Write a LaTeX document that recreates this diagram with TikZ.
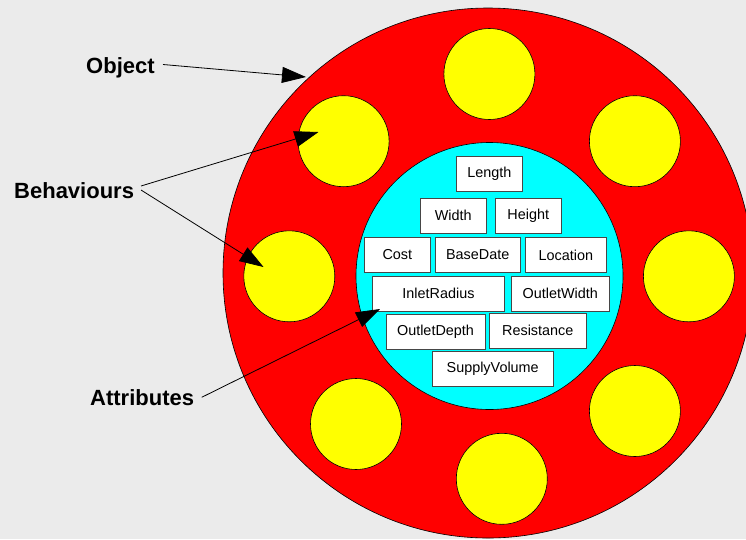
\documentclass[tikz,border=0pt]{standalone}
\usepackage{fontspec}
\setmainfont{Liberation Sans}
\usetikzlibrary{arrows.meta}
\definecolor{bg}{RGB}{235,235,235}
\definecolor{ringred}{RGB}{255,0,0}
\definecolor{cyanfill}{RGB}{0,255,255}
\definecolor{yel}{RGB}{255,255,0}
\definecolor{boxline}{RGB}{70,70,70}
\begin{document}
\begin{tikzpicture}[x=1pt,y=-1pt,
 behav/.style={circle, draw=black, line width=0.6pt, fill=yel, minimum size=91pt, inner sep=0pt},
 attr/.style={draw=boxline, line width=0.8pt, fill=white, minimum height=35pt, inner sep=0pt, font=\fontsize{14.4}{17}\selectfont},
 lbl/.style={font=\fontsize{22}{26}\selectfont\bfseries, inner sep=0pt},
 ptr/.style={line width=0.8pt, -{Triangle[length=24pt,width=16pt]}}]
\fill[bg] (0,0) rectangle (746,539);
\useasboundingbox (0,0) rectangle (746,539);
\begin{scope}
\clip (0,0) rectangle (746,539);
\node[circle, draw=black, line width=0.6pt, fill=ringred, minimum size=530pt, inner sep=0pt] (obj) at (488,273) {};
\end{scope}
\node[circle, draw=black, line width=0.6pt, fill=cyanfill, minimum size=267pt, inner sep=0pt] (core) at (489.5,276) {};
% behaviours
\node[behav] (b1) at (489.4,74) {};
\node[behav] (b2) at (634.9,141.2) {};
\node[behav] (b3) at (688.9,276.3) {};
\node[behav] (b4) at (634.9,411) {};
\node[behav] (b5) at (501.8,478.8) {};
\node[behav] (b6) at (356,424) {};
\node[behav] (b7) at (289.3,276.3) {};
\node[behav] (b8) at (343.6,141.2) {};
% attributes
\node[attr, minimum width=66.7pt] (length) at (489.3,173.8) {Length};
\node[attr, minimum width=66.7pt] (width) at (453.3,215.8) {Width};
\node[attr, minimum width=66.7pt] (height) at (528.3,215.5) {Height};
\node[attr, minimum width=66.7pt] (cost) at (397.3,255) {Cost};
\node[attr, minimum width=84.7pt] (basedate) at (477.7,255) {BaseDate};
\node[attr, minimum width=81.7pt] (location) at (565.8,255) {Location};
\node[attr, minimum width=131.6pt] (inlet) at (438.5,293.8) {InletRadius};
\node[attr, minimum width=98pt] (outw) at (560.3,293.8) {OutletWidth};
\node[attr, minimum width=99pt] (outd) at (435.5,331.7) {OutletDepth};
\node[attr, minimum width=97pt] (resist) at (537.8,330.8) {Resistance};
\node[attr, minimum width=121.3pt] (supply) at (492.7,369) {SupplyVolume};
% labels
\node[lbl, anchor=base west] (objlbl) at (86,73) {Object};
\node[lbl, anchor=base west] (behlbl) at (14,198) {Behaviours};
\node[lbl, anchor=base west] (attlbl) at (90,405) {Attributes};
% connector ends
\coordinate (objTail) at (163,64.5);
\coordinate (objTip) at (306,77);
\coordinate (behTailA) at (141,186);
\coordinate (behTailB) at (141,190);
\coordinate (behTipA) at (318.5,132);
\coordinate (behTipB) at (263.5,267);
\coordinate (attTail) at (201.7,397.3);
\coordinate (attTip) at (380,309);
\draw[ptr] (objTail) -- (objTip);
\draw[ptr] (behTailA) -- (behTipA);
\draw[ptr] (behTailB) -- (behTipB);
\draw[ptr] (attTail) -- (attTip);
\end{tikzpicture}
\end{document}
